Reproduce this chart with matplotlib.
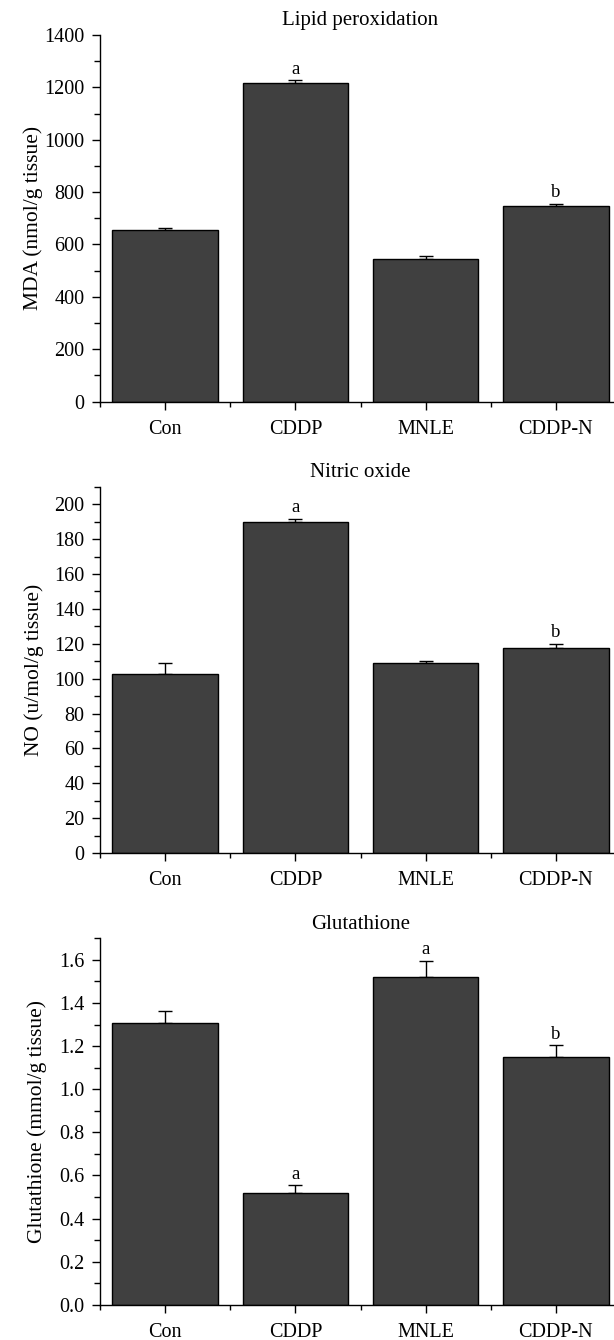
import matplotlib
matplotlib.use('Agg')
import matplotlib.pyplot as plt
from matplotlib.ticker import MultipleLocator, FormatStrFormatter

plt.rcParams['font.family'] = ['Liberation Serif', 'DejaVu Serif']

# ---data---
groups = ['Con', 'CDDP', 'MNLE', 'CDDP-N']

mda = [654, 1218, 546, 746]
mda_err = [8, 10, 10, 10]
mda_sig = ['', 'a', '', 'b']

no = [102.7, 189.5, 108.9, 117.5]
no_err = [6.5, 2.2, 1.5, 2.6]
no_sig = ['', 'a', '', 'b']

gsh = [1.309, 0.520, 1.520, 1.148]
gsh_err = [0.056, 0.036, 0.077, 0.057]
gsh_sig = ['', 'a', 'a', 'b']

panels = [
    ('Lipid peroxidation', 'MDA (nmol/g tissue)', mda, mda_err, mda_sig,
     1400, 200, 100, '%d', -0.110),
    ('Nitric oxide', 'NO (u/mol/g tissue)', no, no_err, no_sig,
     210, 20, 10, '%d', -0.108),
    ('Glutathione', 'Glutathione (mmol/g tissue)', gsh, gsh_err, gsh_sig,
     1.7, 0.2, 0.1, '%.1f', -0.102),
]

fig = plt.figure(figsize=(6.14, 13.4), dpi=100, facecolor='white')
W, H = 614.0, 1340.0
tops = [35.0, 486.7, 938.3]
ax_h = 366.5

x = list(range(len(groups)))

for (title, ylab, vals, errs, sig, ymax, major, minor, fmt, labx), top in zip(panels, tops):
    ax = fig.add_axes([100 / W, 1 - (top + ax_h) / H, 521 / W, ax_h / H])
    ax.bar(x, vals, width=0.81, color='#404040', edgecolor='black',
           linewidth=1.0, zorder=2)
    ax.errorbar(x, vals, yerr=[[0] * len(errs), errs], fmt='none',
                ecolor='black', elinewidth=1.0, capsize=5, capthick=1.0,
                zorder=1)
    for xi, v, e, s in zip(x, vals, errs, sig):
        if s:
            ax.annotate(s, (xi, v + e), xytext=(0, 4.5),
                        textcoords='offset points', ha='center',
                        va='baseline', fontsize=13.5)

    # ---axis styling---
    ax.set_xlim(-0.5, 3.5)
    ax.set_ylim(0, ymax)
    ax.set_xticks(x)
    ax.set_xticklabels(groups)
    ax.xaxis.set_minor_locator(MultipleLocator(1, offset=0.5))
    ax.yaxis.set_major_locator(MultipleLocator(major))
    ax.yaxis.set_minor_locator(MultipleLocator(minor))
    ax.yaxis.set_major_formatter(FormatStrFormatter(fmt))
    for side in ['top', 'right']:
        ax.spines[side].set_visible(False)
    for side in ['left', 'bottom']:
        ax.spines[side].set_linewidth(1.0)
    ax.tick_params(axis='both', which='major', direction='out', length=6,
                   width=1.0, labelsize=14.5, pad=5)
    ax.tick_params(axis='x', which='major', pad=7)
    ax.tick_params(axis='y', which='minor', direction='out', length=4,
                   width=1.0)
    ax.tick_params(axis='x', which='minor', direction='out', length=3.5,
                   width=1.0)
    ax.set_ylabel(ylab, fontsize=15.5)
    ax.yaxis.set_label_coords(labx, 0.5)
    ax.set_title(title, fontsize=15, pad=7)

plt.savefig('out.png', dpi=100, facecolor='white')
